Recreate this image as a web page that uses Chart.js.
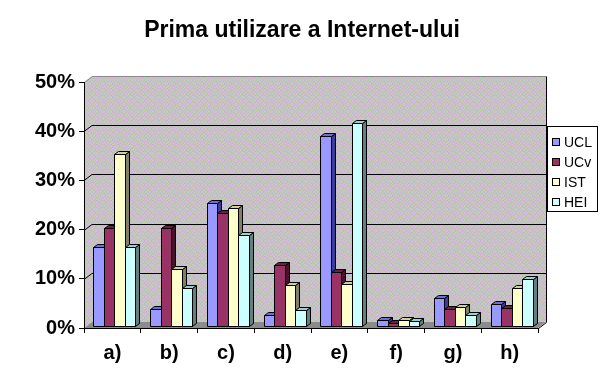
<!DOCTYPE html>
<html>
<head>
<meta charset="utf-8">
<script src="https://cdn.jsdelivr.net/npm/chart.js@4.4.0/dist/chart.umd.min.js"></script>
<style>
  html, body { margin: 0; padding: 0; background: #fff; }
  #wrap { width: 605px; height: 377px; }
</style>
</head>
<body>
<div id="wrap"><canvas id="usage-chart" width="605" height="377"></canvas></div>
<script>
const chartTitle = 'Prima utilizare a Internet-ului';
const categories = ['a)', 'b)', 'c)', 'd)', 'e)', 'f)', 'g)', 'h)'];
const seriesNames = ['UCL', 'UCv', 'IST', 'HEI'];
const ucl = [16, 3.5, 25, 2.2, 38.6, 1.2, 5.7, 4.5];
const ucv = [20, 20, 23, 12.4, 11, 0.6, 3.5, 3.7];
const ist = [35, 11.6, 24, 8.4, 8.6, 1.2, 3.9, 7.8];
const hei = [16, 7.8, 18.4, 3.3, 41.2, 1.0, 2.2, 9.6];
const yTicks = [0, 10, 20, 30, 40, 50];

const FONT = "Arial, 'Liberation Sans', sans-serif";

// front / side / top colours, classic excel palette
const frontColors = ['#9999FF', '#993366', '#FFFFCC', '#CCFFFF'];
const sideColors = ['#3C3C9C', '#4A1230', '#80806A', '#628080'];
const topColors = ['#6E6ED8', '#6A1F44', '#CFCF9E', '#9CCFCF'];

// wall depth and bar depth
const WALL_DX = 8, WALL_DY = -6;
const BAR_DX = 4, BAR_DY = -3;
const BAR_OX = 2, BAR_OY = -2;

// speckled grey texture of the walls
function makeTexture(ctx) {
  const colors = ['#cdafcf', '#b7cdb5', '#c4c4c4', '#d6bfd9', '#bcbcd0', '#cccca9'];
  const order = [
    [0, 2, 1, 4, 3, 5, 2],
    [3, 5, 0, 2, 1, 0, 4],
    [1, 4, 3, 5, 0, 2, 3],
    [2, 0, 5, 1, 4, 3, 1],
    [5, 3, 2, 0, 2, 4, 0],
    [4, 1, 4, 3, 5, 1, 2],
    [0, 2, 1, 5, 0, 3, 5]
  ];
  const c = document.createElement('canvas');
  c.width = 7; c.height = 7;
  const g = c.getContext('2d');
  for (let r = 0; r < 7; r++) {
    for (let k = 0; k < 7; k++) {
      g.fillStyle = colors[order[r][k]];
      g.fillRect(k, r, 1, 1);
    }
  }
  return ctx.createPattern(c, 'repeat');
}

function poly(ctx, pts, fill, stroke) {
  ctx.beginPath();
  ctx.moveTo(pts[0][0], pts[0][1]);
  for (let i = 1; i < pts.length; i++) ctx.lineTo(pts[i][0], pts[i][1]);
  ctx.closePath();
  if (fill) { ctx.fillStyle = fill; ctx.fill(); }
  if (stroke) { ctx.strokeStyle = stroke; ctx.lineWidth = 1; ctx.stroke(); }
}

const wallsPlugin = {
  id: 'walls',
  beforeDraw(chart) {
    const ctx = chart.ctx;
    const a = chart.chartArea;
    const yScale = chart.scales.y;
    const tex = makeTexture(ctx);
    const L = a.left, R = a.right, T = a.top, B = a.bottom;
    ctx.save();
    // left side wall
    poly(ctx, [[L, T], [L + WALL_DX, T + WALL_DY], [L + WALL_DX, B + WALL_DY], [L, B]], tex, null);
    // back wall
    poly(ctx, [[L + WALL_DX, T + WALL_DY], [R + WALL_DX, T + WALL_DY], [R + WALL_DX, B + WALL_DY], [L + WALL_DX, B + WALL_DY]], tex, null);
    ctx.strokeStyle = '#8a8a8a';
    ctx.lineWidth = 1;
    ctx.beginPath();
    ctx.moveTo(L + 0.5, T + 0.5);
    ctx.lineTo(L + WALL_DX + 0.5, T + WALL_DY + 0.5);
    ctx.lineTo(R + WALL_DX + 0.5, T + WALL_DY + 0.5);
    ctx.stroke();
    ctx.strokeStyle = '#000';
    ctx.beginPath();
    ctx.moveTo(R + WALL_DX + 0.5, T + WALL_DY + 0.5);
    ctx.lineTo(R + WALL_DX + 0.5, B + WALL_DY + 0.5);
    ctx.stroke();
    // gridlines on the back wall
    yTicks.forEach(function (v) {
      if (v === 0 || v === 50) return;
      const y = Math.round(yScale.getPixelForValue(v)) + 0.5;
      ctx.beginPath();
      ctx.moveTo(L, y);
      ctx.lineTo(L + WALL_DX, y + WALL_DY);
      ctx.lineTo(R + WALL_DX, y + WALL_DY);
      ctx.strokeStyle = '#000';
      ctx.stroke();
    });
    // floor
    poly(ctx, [[L, B], [L + WALL_DX, B + WALL_DY], [R + WALL_DX, B + WALL_DY], [R, B]], '#8c8c8c', null);
    ctx.beginPath();
    ctx.moveTo(R + 0.5, B + 0.5);
    ctx.lineTo(R + WALL_DX + 0.5, B + WALL_DY + 0.5);
    ctx.strokeStyle = '#000';
    ctx.stroke();
    ctx.restore();
  },
  beforeDatasetsDraw(chart) {
    const ctx = chart.ctx;
    const metas = chart.data.datasets.map(function (d, i) { return chart.getDatasetMeta(i); });
    ctx.save();
    ctx.lineJoin = 'miter';
    for (let c = 0; c < categories.length; c++) {
      for (let s = 0; s < metas.length; s++) {
        const bar = metas[s].data[c];
        const p = bar.getProps(['x', 'y', 'base', 'width'], true);
        const x0 = Math.round(p.x - p.width / 2) + BAR_OX + 0.5;
        const x1 = Math.round(p.x + p.width / 2) + BAR_OX + 0.5;
        const yt = Math.round(p.y) + BAR_OY + 0.5;
        const yb = Math.round(p.base) + BAR_OY + 0.5;
        // side face
        poly(ctx, [[x1, yt], [x1 + BAR_DX, yt + BAR_DY], [x1 + BAR_DX, yb + BAR_DY], [x1, yb]], sideColors[s], '#000');
        // top face
        poly(ctx, [[x0, yt], [x0 + BAR_DX, yt + BAR_DY], [x1 + BAR_DX, yt + BAR_DY], [x1, yt]], topColors[s], '#000');
        // front face
        poly(ctx, [[x0, yt], [x1, yt], [x1, yb], [x0, yb]], frontColors[s], '#000');
      }
    }
    ctx.restore();
    return false;
  },
  afterDraw(chart) {
    const ctx = chart.ctx;
    ctx.save();
    // title, centred on the whole picture
    ctx.font = 'bold 23px ' + FONT;
    ctx.fillStyle = '#000';
    ctx.textAlign = 'center';
    ctx.textBaseline = 'alphabetic';
    ctx.fillText(chartTitle, 302, 37);

    // boxed legend on the right
    const left = chart.chartArea.right + 9;
    const top = 126;
    const w = 50, h = 85;
    ctx.fillStyle = '#fff';
    ctx.fillRect(left, top, w, h);
    ctx.strokeStyle = '#000';
    ctx.lineWidth = 1;
    ctx.strokeRect(left + 0.5, top + 0.5, w, h);
    ctx.font = '14px ' + FONT;
    ctx.textBaseline = 'middle';
    ctx.textAlign = 'left';
    chart.data.datasets.forEach(function (d, i) {
      const cy = top + 16 + i * 20;
      ctx.fillStyle = d.backgroundColor;
      ctx.fillRect(left + 5.5, cy - 3.5, 7, 7);
      ctx.strokeRect(left + 5.5, cy - 3.5, 7, 7);
      ctx.fillStyle = '#000';
      ctx.fillText(d.label, left + 17, cy + 1);
    });
    ctx.restore();
  }
};

const seriesValues = [ucl, ucv, ist, hei];

new Chart(document.getElementById('usage-chart'), {
  type: 'bar',
  data: {
    labels: categories,
    datasets: seriesNames.map(function (name, i) {
      return {
        label: name,
        data: seriesValues[i],
        backgroundColor: frontColors[i],
        borderColor: '#000',
        borderWidth: 1,
        categoryPercentage: 0.74,
        barPercentage: 1.0
      };
    })
  },
  options: {
    responsive: false,
    animation: false,
    devicePixelRatio: 1,
    layout: {
      padding: { left: 31, right: 67, top: 82, bottom: 4 }
    },
    scales: {
      x: {
        grid: {
          display: true,
          drawOnChartArea: false,
          drawTicks: true,
          tickLength: 5,
          color: '#000'
        },
        border: { display: true, color: '#000' },
        ticks: {
          color: '#000',
          padding: 8,
          font: { family: FONT, size: 20, weight: 'bold' }
        }
      },
      y: {
        min: 0,
        max: 50,
        grid: {
          display: true,
          drawOnChartArea: false,
          drawTicks: true,
          tickLength: 5,
          color: '#000'
        },
        border: { display: true, color: '#000' },
        ticks: {
          stepSize: 10,
          color: '#000',
          padding: 4,
          font: { family: FONT, size: 20, weight: 'bold' },
          callback: function (v) { return v + '%'; }
        }
      }
    },
    plugins: {
      legend: { display: false },
      tooltip: { enabled: false },
      title: { display: false }
    }
  },
  plugins: [wallsPlugin]
});
</script>
</body>
</html>
